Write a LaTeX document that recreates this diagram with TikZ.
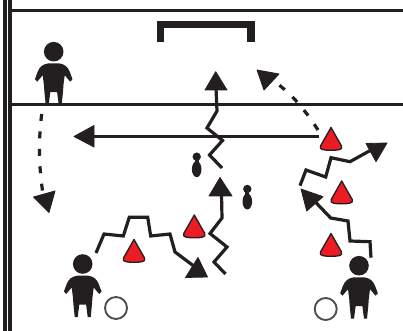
\documentclass[tikz,border=0pt]{standalone}
\definecolor{ink}{HTML}{231F20}
\definecolor{conered}{HTML}{ED1C24}
\tikzset{
  x=0.75pt,y=-0.75pt,
  rule/.style={ink,line width=2.5pt},
  zig/.style={ink,line width=2.4pt,line join=miter,line cap=butt},
  dashline/.style={ink,line width=2.4pt,dash pattern=on 5.2pt off 7.9pt},
  head/.style={fill=ink,draw=ink,line width=0.6pt,line join=round},
  cone/.style={fill=conered,draw=ink,line width=1pt,line join=round},
  ball/.style={draw=ink!80,line width=1.4pt,fill=white},
  person/.pic={
    \fill[ink] (0,0) circle[radius=9.8];
    \fill[ink] (-5,11.6) .. controls (-11,12.5) and (-14,15) .. (-16,20)
      -- (-18.8,27.5) -- (-16.5,30) -- (-11,23.5)
      -- (-9.8,33) -- (-9.3,40) -- (-8,53) -- (-5,53) -- (-3.4,40.5)
      -- (3.4,40.5) -- (5,53) -- (8,53) -- (9.3,40) -- (9.8,33) -- (11,23.5)
      -- (16.5,30) -- (18.8,27.5) -- (16,20) .. controls (14,15) and (11,12.5) .. (5,11.6) -- cycle;
  },
  topview/.pic={
    \fill[ink] (0,0) circle[radius=4.2];
    \fill[ink] (0,12.5) ellipse[x radius=4.8,y radius=8];
    \fill[ink] (-2,0) rectangle (2,8);
  }
}
\newcommand{\conepath}[3]{% apex x, apex y, half width
  \path[cone] (#1,#2) -- (#1+#3-0.5,#2+18.5)
    .. controls (#1+#3+0.7,#2+20.5) and (#1+#3-1,#2+21.8) .. (#1+#3-3,#2+22.2)
    .. controls (#1+#3-7,#2+23) and (#1-#3+7,#2+23) .. (#1-#3+3,#2+22.2)
    .. controls (#1-#3+1,#2+21.8) and (#1-#3-0.7,#2+20.5) .. (#1-#3+0.5,#2+18.5) -- cycle;}
\begin{document}
\begin{tikzpicture}
\useasboundingbox (0,0) rectangle (403,331);
\fill[white] (0,0) rectangle (403,331);
% border
\draw[rule] (5,0) -- (5,331);
\draw[rule] (10,0) -- (10,331);
\draw[rule] (10,10.5) -- (403,10.5);
\draw[rule] (10,104.5) -- (403,104.5);
% goal
\draw[ink,line width=5.6pt,line join=miter] (160.5,42.5) -- (160.5,24.5) -- (251,24.5) -- (251,42.5);
% players
\pic at (53.7,51.7) {person};
\pic at (82.7,264) {person};
\pic at (359,265.7) {person};
\pic at (196.7,156.7) {topview};
\pic at (247.3,189) {topview};
% balls
\draw[ball] (116,308) circle[radius=11];
\draw[ball] (325.7,309) circle[radius=11];
% long pass
\draw[ink,line width=2.5pt] (319,136.5) -- (90,136.5);
\path[head] (74,136.5) -- (94,125.5) -- (94,147) -- cycle;
% dashed runs
\draw[dashline] (318,130) .. controls (303,107) and (290,92) .. (272,80);
\path[head] (257,70) -- (279,74) -- (264,90) -- cycle;
\draw[dashline] (41.7,114) .. controls (38.5,140) and (38.5,165) .. (43,194);
\path[head] (49,212.5) -- (33.5,197) -- (55,191) -- cycle;
% centre dribble top
\draw[zig] (222,168) -- (209.5,155) -- (222.5,140.5) -- (207,128) -- (217,111) -- (216,88);
\path[head] (215.7,71.7) -- (227,90) -- (205,90) -- cycle;
% centre dribble bottom
\draw[zig] (225.5,274) -- (214,262) -- (227,247) -- (210,233.5) -- (222,218) -- (221.5,194);
\path[head] (220,177.5) -- (232,196) -- (209,196) -- cycle;
% left dribble
\draw[zig] (96,253) -- (104,234) -- (123.3,236) -- (129.3,217.3) -- (147.7,217.3) -- (150.7,236) -- (170,234) -- (175,252) -- (195,267);
\path[head] (207.5,277) -- (198,257.5) -- (185.5,277.5) -- cycle;
% right dribble top
\draw[zig] (300,185.7) -- (306,170) -- (325.7,177) -- (331,157.7) -- (350,161.7) -- (372,149.5);
\path[head] (387,143) -- (366,143.5) -- (376,161.7) -- cycle;
% right dribble bottom
\draw[zig] (371,257.7) -- (370,241.7) -- (350,241) -- (348,221) -- (330.7,218) -- (312,198.5);
\path[head] (301,189) -- (323,196.7) -- (306.7,211) -- cycle;
% cones
\conepath{331}{127.5}{11}
\conepath{341.7}{181}{11}
\conepath{331}{233.5}{11}
\conepath{134}{239.5}{11}
\conepath{194.3}{215}{11}
\end{tikzpicture}
\end{document}
